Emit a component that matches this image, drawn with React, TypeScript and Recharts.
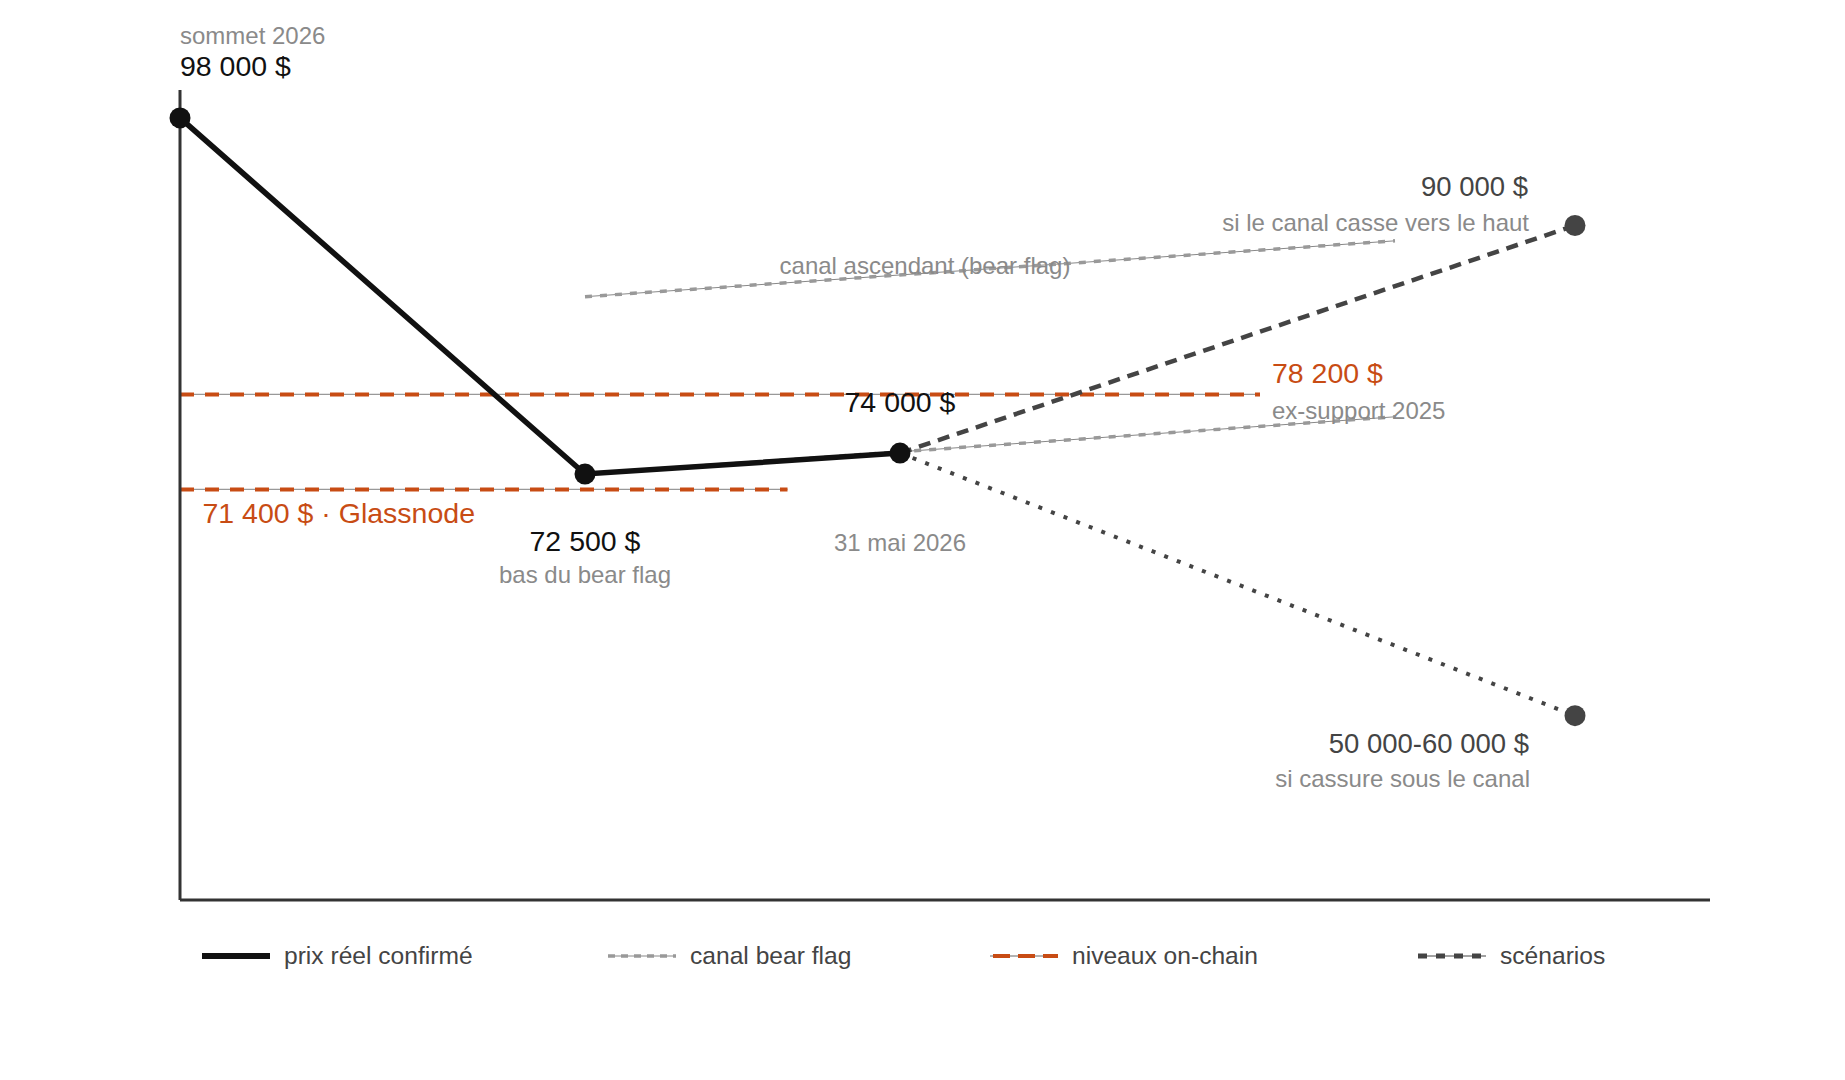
import { LineChart, Line, XAxis, YAxis, ReferenceDot, Legend } from 'recharts'

// prix réel (x = semaines depuis le sommet)
const prixX = [0, 4.5, 8]
const prixY = [98000, 72500, 74000]

// canal bear flag
const canalHautX = [4.5, 13.5]
const canalHautY = [85200, 89200]
const canalBasX = [4.5, 13.5]
const canalBasY = [72500, 76600]

// niveaux on-chain
const exSupportX = [0, 12]
const exSupportY = [78200, 78200]
const glassnodeX = [0, 6.75]
const glassnodeY = [71400, 71400]

// scénarios
const hausseX = [8, 15.5]
const hausseY = [74000, 90300]
const baisseX = [8, 15.5]
const baisseY = [74000, 55200]

const legendLabels = ['prix réel confirmé', 'canal bear flag', 'niveaux on-chain', 'scénarios']

const noteTexts = [
  'sommet 2026',
  '98 000 $',
  'canal ascendant (bear flag)',
  '90 000 $',
  'si le canal casse vers le haut',
  '78 200 $',
  'ex-support 2025',
  '74 000 $',
  '71 400 $ · Glassnode',
  '72 500 $',
  'bas du bear flag',
  '31 mai 2026',
  '50 000-60 000 $',
  'si cassure sous le canal',
]
const noteX = [0, 0, 8.3, 15.5, 15.5, 12, 12, 8, 0, 4.5, 4.5, 8, 15.5, 15.5]
const noteY = [98000, 98000, 86900, 90300, 90300, 78200, 78200, 74000, 71400, 72500, 72500, 74000, 55200, 55200]

const FONT = '"Liberation Sans", Arial, sans-serif'
const ORANGE = '#c84c14'
const GREY = '#8a8a8a'
const DARK = '#444'
const INK = '#111'

const kinds: Record<string, { size: number; fill: string }> = {
  sub: { size: 24, fill: GREY },
  value: { size: 28.5, fill: INK },
  scen: { size: 27.5, fill: DARK },
  orange: { size: 28.5, fill: ORANGE },
}

// offsets in px from the anchor point, same order as noteTexts
const noteLayout: { dx: number; dy: number; anchor: 'start' | 'middle' | 'end'; kind: string }[] = [
  { dx: 0, dy: -73.5, anchor: 'start', kind: 'sub' },
  { dx: 0, dy: -42, anchor: 'start', kind: 'value' },
  { dx: -2, dy: 1, anchor: 'middle', kind: 'sub' },
  { dx: -47, dy: -29, anchor: 'end', kind: 'scen' },
  { dx: -46, dy: 6, anchor: 'end', kind: 'sub' },
  { dx: 12, dy: -11, anchor: 'start', kind: 'orange' },
  { dx: 12, dy: 24.5, anchor: 'start', kind: 'sub' },
  { dx: 0, dy: -41.5, anchor: 'middle', kind: 'value' },
  { dx: 22.5, dy: 33.5, anchor: 'start', kind: 'orange' },
  { dx: 0, dy: 77, anchor: 'middle', kind: 'value' },
  { dx: 0, dy: 109, anchor: 'middle', kind: 'sub' },
  { dx: 0, dy: 98, anchor: 'middle', kind: 'sub' },
  { dx: -46, dy: 37.5, anchor: 'end', kind: 'scen' },
  { dx: -45, dy: 71, anchor: 'end', kind: 'sub' },
]

const pts = (xs: number[], ys: number[]) => xs.map((x, i) => ({ x, y: ys[i] }))

const endDot = (last: number) => (p: any) =>
  p.index === last ? (
    <circle key={`d${p.index}`} cx={p.cx} cy={p.cy} r={10.5} fill={DARK} />
  ) : (
    <g key={`d${p.index}`} />
  )

function LegendIcon({ i }: { i: number }) {
  return (
    <svg width={68} height={20} style={{ display: 'block' }}>
      {i === 0 && <line x1={0} y1={10} x2={68} y2={10} stroke={INK} strokeWidth={6} />}
      {i === 1 && (
        <>
          <line x1={0} y1={10} x2={68} y2={10} stroke="#888" strokeWidth={1} />
          <line x1={0} y1={10} x2={68} y2={10} stroke="#999" strokeWidth={3.5} strokeDasharray="7 6" />
        </>
      )}
      {i === 2 && (
        <>
          <line x1={0} y1={10} x2={68} y2={10} stroke="#666" strokeWidth={1} />
          <line x1={3} y1={10} x2={68} y2={10} stroke={ORANGE} strokeWidth={4} strokeDasharray="17 8" />
        </>
      )}
      {i === 3 && (
        <>
          <line x1={0} y1={10} x2={68} y2={10} stroke={DARK} strokeWidth={1} />
          <line x1={0} y1={10} x2={68} y2={10} stroke={DARK} strokeWidth={5} strokeDasharray="9 9" />
        </>
      )}
    </svg>
  )
}

const legendWidths = [406, 382, 428, 200]

function LegendBox() {
  return (
    <div style={{ display: 'flex', alignItems: 'center', fontFamily: FONT }}>
      {legendLabels.map((label, i) => (
        <div key={label} style={{ width: legendWidths[i], display: 'flex', alignItems: 'center' }}>
          <LegendIcon i={i} />
          <span style={{ marginLeft: 14, fontSize: 24.6, color: DARK }}>{label}</span>
        </div>
      ))}
    </div>
  )
}

export default function App() {
  return (
    <div style={{ width: 1829, height: 1064, background: '#fff' }}>
      <LineChart width={1829} height={1064} margin={{ top: 82, left: 171, right: 127, bottom: 171 }}>
        <XAxis
          type="number"
          dataKey="x"
          domain={[0, 17]}
          tick={false}
          tickLine={false}
          height={1}
          axisLine={{ stroke: '#333', strokeWidth: 3 }}
        />
        <YAxis
          type="number"
          dataKey="y"
          domain={[42000, 100000]}
          tick={false}
          tickLine={false}
          width={1}
          axisLine={{ stroke: '#333', strokeWidth: 3 }}
        />

        {/* canal bear flag: thin core + short dashes */}
        <Line data={pts(canalHautX, canalHautY)} dataKey="y" stroke="#888" strokeWidth={1} dot={false} activeDot={false} isAnimationActive={false} />
        <Line data={pts(canalHautX, canalHautY)} dataKey="y" stroke="#999" strokeWidth={3.5} strokeDasharray="7 8" dot={false} activeDot={false} isAnimationActive={false} />
        <Line data={pts(canalBasX, canalBasY)} dataKey="y" stroke="#888" strokeWidth={1} dot={false} activeDot={false} isAnimationActive={false} />
        <Line data={pts(canalBasX, canalBasY)} dataKey="y" stroke="#999" strokeWidth={3.5} strokeDasharray="7 8" dot={false} activeDot={false} isAnimationActive={false} />

        {/* niveaux on-chain */}
        <Line data={pts(exSupportX, exSupportY)} dataKey="y" stroke="#999" strokeWidth={1.3} dot={false} activeDot={false} isAnimationActive={false} />
        <Line data={pts(exSupportX, exSupportY)} dataKey="y" stroke={ORANGE} strokeWidth={4} strokeDasharray="14 11" dot={false} activeDot={false} isAnimationActive={false} />
        <Line data={pts(glassnodeX, glassnodeY)} dataKey="y" stroke="#999" strokeWidth={1.3} dot={false} activeDot={false} isAnimationActive={false} />
        <Line data={pts(glassnodeX, glassnodeY)} dataKey="y" stroke={ORANGE} strokeWidth={4} strokeDasharray="14 11" dot={false} activeDot={false} isAnimationActive={false} />

        {/* scénarios */}
        <Line data={pts(hausseX, hausseY)} dataKey="y" stroke={DARK} strokeWidth={4.5} strokeDasharray="12 8" dot={endDot(hausseX.length - 1)} activeDot={false} isAnimationActive={false} />
        <Line data={pts(baisseX, baisseY)} dataKey="y" stroke={DARK} strokeWidth={4} strokeDasharray="4 9.5" dot={endDot(baisseX.length - 1)} activeDot={false} isAnimationActive={false} />

        {/* prix réel confirmé */}
        <Line
          data={pts(prixX, prixY)}
          dataKey="y"
          stroke={INK}
          strokeWidth={5.5}
          dot={{ r: 10.5, fill: INK, stroke: INK, strokeWidth: 0 }}
          activeDot={false}
          isAnimationActive={false}
        />

        {noteTexts.map((t, i) => {
          const l = noteLayout[i]
          const k = kinds[l.kind]
          return (
            <ReferenceDot
              key={`n${i}`}
              x={noteX[i]}
              y={noteY[i]}
              r={0}
              ifOverflow="visible"
              shape={(p: any) => (
                <text
                  x={p.cx + l.dx}
                  y={p.cy + l.dy}
                  textAnchor={l.anchor}
                  fontFamily={FONT}
                  fontSize={k.size}
                  fill={k.fill}
                >
                  {t}
                </text>
              )}
            />
          )
        })}

        <Legend
          verticalAlign="middle"
          content={() => <LegendBox />}
          wrapperStyle={{ left: 194, top: 934, width: 1500 }}
        />
      </LineChart>
    </div>
  )
}
